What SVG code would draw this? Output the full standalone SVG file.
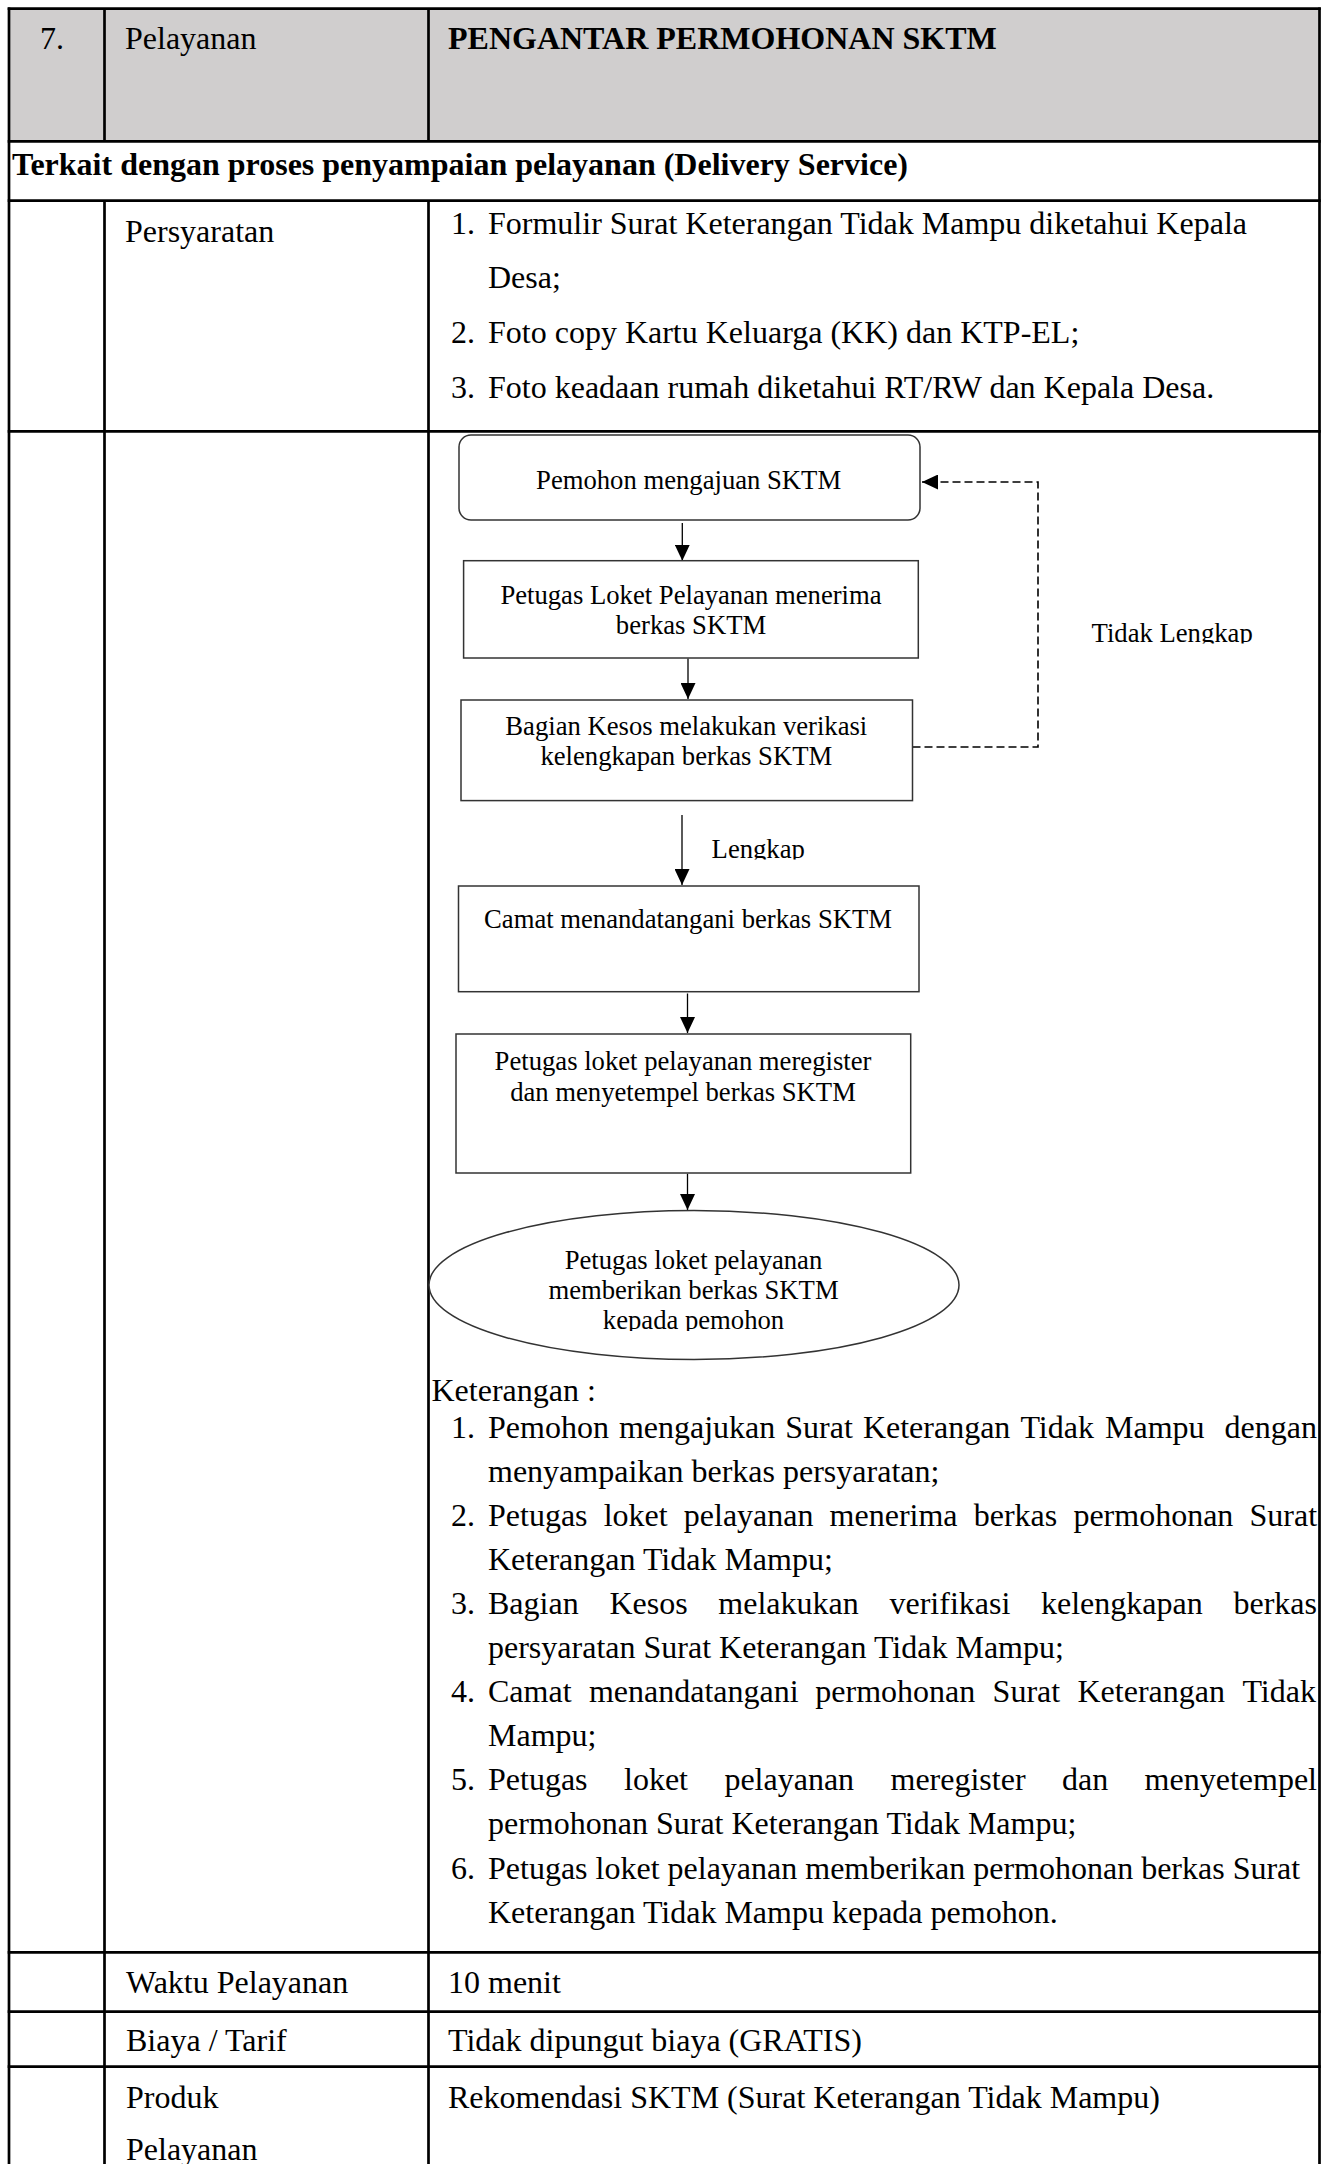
<svg xmlns="http://www.w3.org/2000/svg" width="1327" height="2164" viewBox="0 0 1327 2164">
<style>
.t{font-family:"Liberation Serif","Times New Roman",serif;font-size:32px;fill:#000}
.b{font-weight:bold}
.f{font-family:"Liberation Serif","Times New Roman",serif;font-size:26.67px;fill:#000;text-anchor:middle}
.fl{font-family:"Liberation Serif","Times New Roman",serif;font-size:26.67px;fill:#000}
.grid{stroke:#000;stroke-width:2.7;fill:none}
.box{fill:#fff;stroke:#333;stroke-width:1.5}
.conn{stroke:#000;stroke-width:1.3;fill:none}
.dash{stroke:#000;stroke-width:1.6;fill:none;stroke-dasharray:8 4}
</style>
<defs>
<marker id="ah" viewBox="0 0 16 15" refX="16" refY="7.5" markerWidth="16" markerHeight="15" markerUnits="userSpaceOnUse" orient="auto">
<path d="M0,0 L16,7.5 L0,15 Z" fill="#000"/>
</marker>
<clipPath id="cTL"><rect x="1080" y="600" width="200" height="43.5"/></clipPath>
<clipPath id="cLK"><rect x="700" y="820" width="120" height="39.5"/></clipPath>
<clipPath id="cEL"><rect x="540" y="1300" width="310" height="31"/></clipPath>
</defs>

<g id="table">
<rect x="9" y="8.7" width="1310.5" height="132.6" fill="#d0cece"/>
<line class="grid" x1="7.7" y1="8.7" x2="1320.8" y2="8.7"/>
<line class="grid" x1="7.7" y1="141.3" x2="1320.8" y2="141.3"/>
<line class="grid" x1="7.7" y1="200.7" x2="1320.8" y2="200.7"/>
<line class="grid" x1="7.7" y1="431.3" x2="1320.8" y2="431.3"/>
<line class="grid" x1="7.7" y1="1952.3" x2="1320.8" y2="1952.3"/>
<line class="grid" x1="7.7" y1="2011.7" x2="1320.8" y2="2011.7"/>
<line class="grid" x1="7.7" y1="2066.7" x2="1320.8" y2="2066.7"/>
<line class="grid" x1="9" y1="7.4" x2="9" y2="2164"/>
<line class="grid" x1="1319.5" y1="7.4" x2="1319.5" y2="2164"/>
<line class="grid" x1="104.5" y1="8.7" x2="104.5" y2="141.3"/>
<line class="grid" x1="428.5" y1="8.7" x2="428.5" y2="141.3"/>
<line class="grid" x1="104.5" y1="200.7" x2="104.5" y2="2164"/>
<line class="grid" x1="428.5" y1="200.7" x2="428.5" y2="2164"/>
</g>

<g id="header">
<text class="t" x="40" y="48.7">7.</text>
<text class="t" x="125" y="48.7">Pelayanan</text>
<text class="t b" x="448" y="48.7">PENGANTAR PERMOHONAN SKTM</text>
</g>

<g id="section">
<text class="t b" x="12" y="175">Terkait dengan proses penyampaian pelayanan (Delivery Service)</text>
</g>

<g id="persyaratan">
<text class="t" x="125" y="241.5">Persyaratan</text>
<text class="t" x="451" y="233.5">1.</text>
<text class="t" x="488" y="233.5">Formulir Surat Keterangan Tidak Mampu diketahui Kepala</text>
<text class="t" x="488" y="287.5">Desa;</text>
<text class="t" x="451" y="342.5">2.</text>
<text class="t" x="488" y="342.5">Foto copy Kartu Keluarga (KK) dan KTP-EL;</text>
<text class="t" x="451" y="397.5">3.</text>
<text class="t" x="488" y="397.5">Foto keadaan rumah diketahui RT/RW dan Kepala Desa.</text>
</g>

<g id="connectors">
<line class="conn" x1="682.3" y1="523" x2="682.3" y2="560.7" marker-end="url(#ah)"/>
<line class="conn" x1="688" y1="658.5" x2="688" y2="699" marker-end="url(#ah)"/>
<line class="conn" x1="682" y1="815" x2="682" y2="885" marker-end="url(#ah)"/>
<line class="conn" x1="687.5" y1="993.5" x2="687.5" y2="1033" marker-end="url(#ah)"/>
<line class="conn" x1="687.5" y1="1173.7" x2="687.5" y2="1210" marker-end="url(#ah)"/>
<path class="dash" d="M912.5,747 H1038 V482 H922" marker-end="url(#ah)"/>
<text class="fl" x="1091.6" y="641.5" clip-path="url(#cTL)">Tidak Lengkap</text>
<text class="fl" x="711.6" y="857.5" clip-path="url(#cLK)">Lengkap</text>
</g>

<g id="n1">
<rect class="box" x="459" y="435" width="461" height="85" rx="12" ry="12"/>
<text class="f" x="688.6" y="488.5">Pemohon mengajuan SKTM</text>
</g>
<g id="n2">
<rect class="box" x="463.6" y="560.7" width="454.7" height="97.3"/>
<text class="f" x="691" y="604">Petugas Loket Pelayanan menerima</text>
<text class="f" x="691" y="634">berkas SKTM</text>
</g>
<g id="n3">
<rect class="box" x="461" y="700" width="451.5" height="100.6"/>
<text class="f" x="686.3" y="734.5">Bagian Kesos melakukan verikasi</text>
<text class="f" x="686.3" y="764.5">kelengkapan berkas SKTM</text>
</g>
<g id="n4">
<rect class="box" x="458.5" y="886" width="460.5" height="105.7"/>
<text class="f" x="688" y="927.5">Camat menandatangani berkas SKTM</text>
</g>
<g id="n5">
<rect class="box" x="456" y="1034" width="454.7" height="139"/>
<text class="f" x="683" y="1069.5">Petugas loket pelayanan meregister</text>
<text class="f" x="683" y="1100.5">dan menyetempel berkas SKTM</text>
</g>
<g id="n6">
<ellipse class="box" cx="694" cy="1285" rx="265" ry="74.5"/>
<text class="f" x="693.5" y="1268.5">Petugas loket pelayanan</text>
<text class="f" x="693.5" y="1298.5">memberikan berkas SKTM</text>
<text class="f" x="693.5" y="1329" clip-path="url(#cEL)">kepada pemohon</text>
</g>

<g id="keterangan">
<text class="t" x="431.5" y="1400.5">Keterangan :</text>
<text class="t" x="451" y="1437.5">1.</text>
<text class="t" y="1437.5"><tspan x="488">Pemohon</tspan><tspan x="618.9">mengajukan</tspan><tspan x="785.3">Surat</tspan><tspan x="862.9">Keterangan</tspan><tspan x="1020.4">Tidak</tspan><tspan x="1105">Mampu</tspan><tspan x="1224.6">dengan</tspan></text>
<text class="t" x="488" y="1481.6">menyampaikan berkas persyaratan;</text>
<text class="t" x="451" y="1525.7">2.</text>
<text class="t" y="1525.7"><tspan x="488">Petugas</tspan><tspan x="603.7">loket</tspan><tspan x="683.8">pelayanan</tspan><tspan x="829.6">menerima</tspan><tspan x="973.7">berkas</tspan><tspan x="1073.4">permohonan</tspan><tspan x="1249.5">Surat</tspan></text>
<text class="t" x="488" y="1569.8">Keterangan Tidak Mampu;</text>
<text class="t" x="451" y="1613.9">3.</text>
<text class="t" y="1613.9"><tspan x="488">Bagian</tspan><tspan x="609.4">Kesos</tspan><tspan x="718.3">melakukan</tspan><tspan x="889.5">verifikasi</tspan><tspan x="1041">kelengkapan</tspan><tspan x="1233.5">berkas</tspan></text>
<text class="t" x="488" y="1658">persyaratan Surat Keterangan Tidak Mampu;</text>
<text class="t" x="451" y="1702.1">4.</text>
<text class="t" y="1702.1"><tspan x="488">Camat</tspan><tspan x="588.9">menandatangani</tspan><tspan x="815.3">permohonan</tspan><tspan x="992.6">Surat</tspan><tspan x="1077.5">Keterangan</tspan><tspan x="1242.4">Tidak</tspan></text>
<text class="t" x="488" y="1746.2">Mampu;</text>
<text class="t" x="451" y="1790.3">5.</text>
<text class="t" y="1790.3"><tspan x="488">Petugas</tspan><tspan x="624">loket</tspan><tspan x="724.4">pelayanan</tspan><tspan x="890.5">meregister</tspan><tspan x="1062">dan</tspan><tspan x="1144.6">menyetempel</tspan></text>
<text class="t" x="488" y="1834.4">permohonan Surat Keterangan Tidak Mampu;</text>
<text class="t" x="451" y="1878.5">6.</text>
<text class="t" x="488" y="1878.5">Petugas loket pelayanan memberikan permohonan berkas Surat</text>
<text class="t" x="488" y="1922.6">Keterangan Tidak Mampu kepada pemohon.</text>
</g>

<g id="waktu">
<text class="t" x="126" y="1992.7">Waktu Pelayanan</text>
<text class="t" x="448" y="1992.7">10 menit</text>
</g>
<g id="biaya">
<text class="t" x="126" y="2050.5">Biaya / Tarif</text>
<text class="t" x="448" y="2050.5">Tidak dipungut biaya (GRATIS)</text>
</g>
<g id="produk">
<text class="t" x="126" y="2108">Produk</text>
<text class="t" x="126" y="2160">Pelayanan</text>
<text class="t" x="448" y="2108">Rekomendasi SKTM (Surat Keterangan Tidak Mampu)</text>
</g>
</svg>
